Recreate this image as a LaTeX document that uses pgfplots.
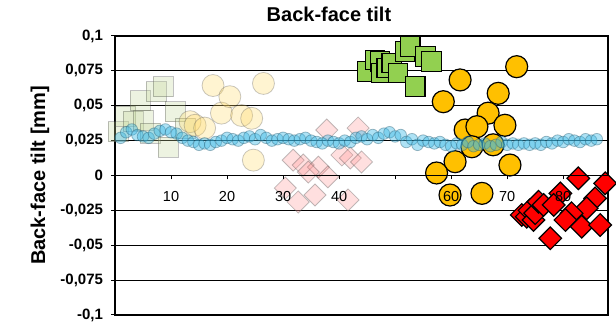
\documentclass[border=0pt]{standalone}
\usepackage{fontspec}
\setmainfont{Liberation Sans}
\usepackage{pgfplots}
\pgfplotsset{compat=1.18}
\definecolor{fgreen}{RGB}{196,215,155}
\definecolor{forange}{RGB}{255,217,102}
\definecolor{fpink}{RGB}{255,150,150}
\definecolor{sgreen}{RGB}{146,208,80}
\definecolor{sorange}{RGB}{255,192,0}
\definecolor{sred}{RGB}{255,0,0}
\definecolor{sblue}{RGB}{60,185,230}
\definecolor{bblue}{RGB}{40,90,110}
\begin{document}
\begin{tikzpicture}
\begin{axis}[
  at={(0,0)}, anchor=south west, scale only axis,
  width=493pt, height=279pt,
  xmin=0, xmax=88, ymin=-0.1, ymax=0.1,
  clip=false,
  axis line style={line width=1.2pt},
  xtick=\empty,
  ytick={-0.1,-0.075,-0.05,-0.025,0,0.025,0.05,0.075,0.1},
  ytick pos=left, tick align=outside, major tick length=3.5pt,
  tick style={black, line width=1pt},
  ymajorgrids, major grid style={black, line width=1pt},
  yticklabel={\pgfmathprintnumber[fixed,precision=3,use comma,assume math mode=true]{\tick}},
  yticklabel style={font=\fontsize{15}{18}\selectfont\bfseries, xshift=-5pt},
  ylabel={Back-face tilt [mm]},
  ylabel style={font=\fontsize{20}{24}\selectfont\bfseries, at={(axis description cs:-0.152,0.5)}, anchor=center},
  title={Back-face tilt},
  title style={font=\fontsize{20}{24}\selectfont\bfseries, at={(axis description cs:0.434,1)}, anchor=base, yshift=8pt},
]
% faded green squares
\addplot[only marks, mark=square*, mark size=10pt,
  mark options={fill=fgreen, draw=black!70, fill opacity=0.3, draw opacity=0.35, line width=0.8pt}]
coordinates {(0.6,0.0315) (1.9,0.0427) (3.2,0.039) (4.5,0.0537) (5,0.0398) (6.3,0.0304) (7.4,0.060) (8.6,0.0637) (9.5,0.0204) (10.7,0.0457) (12.5,0.034)};
% faded orange circles
\addplot[only marks, mark=*, mark size=11pt,
  mark options={fill=forange, draw=black!70, fill opacity=0.3, draw opacity=0.3, line width=0.8pt}]
coordinates {(13.4,0.0386) (14.3,0.036) (16,0.034) (17.5,0.0645) (19,0.0447) (20.5,0.0565) (22.6,0.043) (24.4,0.041) (26.5,0.066) (24.7,0.011)};
% faded pink diamonds
\addplot[only marks, mark=square*, mark size=7.8pt,
  mark options={rotate=45, fill=fpink, draw=black!70, fill opacity=0.3, draw opacity=0.35, line width=0.8pt}]
coordinates {(31.8,0.011) (33.6,0.0075) (36.3,0.006) (37.8,0.0326) (43.4,0.034) (40.5,0.0147) (42,0.0125) (44,0.0097) (38,-0.001) (30.4,-0.009) (32.7,-0.019) (35.7,-0.014) (41.6,-0.0175) (34.5,0.0025)};
% green squares
\addplot[only marks, mark=square*, mark size=9.8pt,
  mark options={fill=sgreen, draw=black, line width=1.2pt}]
coordinates {(45,0.0745) (46.4,0.0828) (47.3,0.082) (47.6,0.0735) (48.5,0.077) (49.4,0.0806) (50.5,0.0735) (51.8,0.0889) (52.7,0.0925) (55.4,0.0853) (56.5,0.0817) (53.6,0.0637)};
% orange circles
\addplot[only marks, mark=*, mark size=11pt,
  mark options={fill=sorange, draw=black, line width=1.2pt}]
coordinates {(71.7,0.078) (61.6,0.0685) (58.6,0.0529) (68.4,0.0589) (66.6,0.0447) (69.6,0.036) (62.5,0.0326) (64.6,0.035) (63.7,0.0206) (67.5,0.022) (60.7,0.0099) (57.4,0.0018) (70.5,0.0075) (59.8,-0.014) (65.5,-0.0128)};
% red diamonds
\addplot[only marks, mark=square*, mark size=8pt,
  mark options={rotate=45, fill=sred, draw=black, line width=1.2pt}]
coordinates {(82.7,-0.002) (87.5,-0.0056) (79.5,-0.0128) (85.7,-0.0164) (72.6,-0.0283) (73.5,-0.0295) (74,-0.025) (74.7,-0.0319) (75,-0.027) (75.6,-0.0188) (76.5,-0.0211) (78.3,-0.0211) (84.2,-0.0235) (81.5,-0.0271) (80.4,-0.0319) (83.3,-0.0367) (86.6,-0.0355) (77.7,-0.045)};
% blue circles
\addplot[only marks, mark=*, mark size=5.8pt,
  mark options={fill=sblue, draw=bblue, fill opacity=0.42, draw opacity=0.4, line width=0.8pt}]
coordinates {
(1,0.027) (2,0.031) (3,0.033) (4,0.029) (5,0.028) (6,0.027) (7,0.030) (8,0.032) (9,0.033) (10,0.031)
(11,0.030) (12,0.027) (13,0.025) (14,0.024) (15,0.022) (16,0.023) (17,0.022) (18,0.024) (19,0.025) (20,0.027)
(21,0.026) (22,0.025) (23,0.027) (24,0.028) (25,0.026) (26,0.029) (27,0.027) (28,0.025) (29,0.026) (30,0.027)
(31,0.026) (32,0.025) (33,0.026) (34,0.027) (35,0.025) (36,0.024) (37,0.023) (38,0.025) (39,0.024) (40,0.023)
(41,0.025) (42,0.024) (43,0.027) (44,0.028) (45,0.026) (46,0.029) (47,0.027) (48,0.030) (49,0.031) (50,0.028)
(51,0.029) (52,0.024) (53,0.026) (54,0.022) (55,0.025) (56,0.024) (57,0.023) (58,0.024) (59,0.022) (60,0.021)
(61,0.023) (62,0.022) (63,0.024) (64,0.021) (65,0.022) (66,0.023) (67,0.021) (68,0.022) (69,0.024) (70,0.022)
(71,0.023) (72,0.022) (73,0.023) (74,0.022) (75,0.023) (76,0.022) (77,0.024) (78,0.023) (79,0.025) (80,0.024)
(81,0.026) (82,0.025) (83,0.024) (84,0.026) (85,0.025) (86,0.026)};
\end{axis}
\begin{axis}[
  at={(0,0)}, anchor=south west, scale only axis,
  width=493pt, height=279pt,
  xmin=0, xmax=88, ymin=-0.1, ymax=0.1,
  axis x line=middle, axis y line=none,
  x axis line style={-, line width=1pt},
  xtick={10,20,30,40,50,60,70,80}, ytick=\empty,
  xticklabels={10,20,30,40,,60,70,80},
  tick align=outside, major tick length=4pt,
  xtick style={black, line width=1pt},
  xticklabel style={font=\fontsize{14.5}{17}\selectfont, yshift=-8pt},
]
\end{axis}
\pgfresetboundingbox
\path[use as bounding box] (-115pt,-11pt) rectangle (501pt,315pt);
\end{tikzpicture}
\end{document}
